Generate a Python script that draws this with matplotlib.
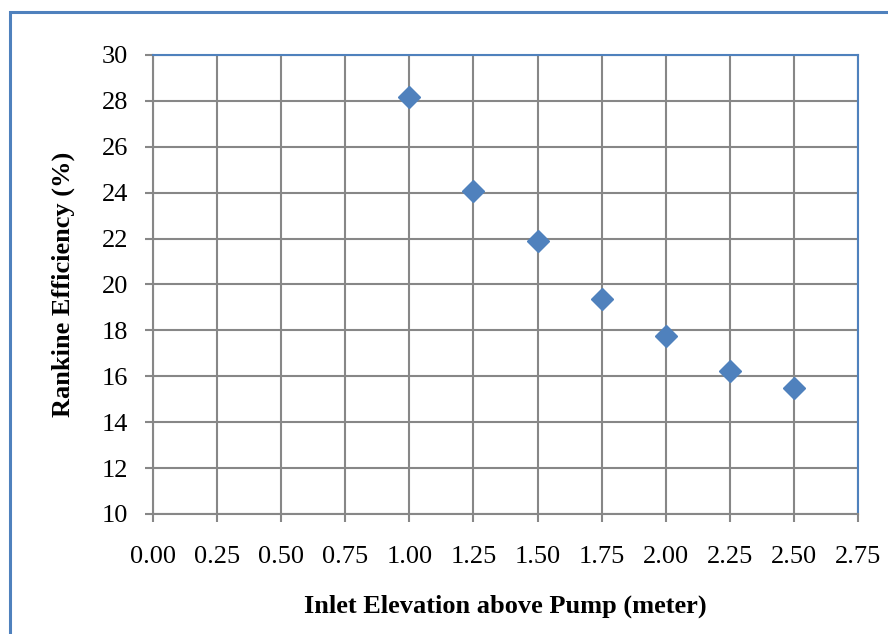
import matplotlib.pyplot as plt
from matplotlib.patches import Rectangle

# inlet elevation (m) vs Rankine efficiency (%)
elevation = [1.00, 1.25, 1.50, 1.75, 2.00, 2.25, 2.50]
efficiency = [28.17, 24.07, 21.90, 19.35, 17.75, 16.23, 15.50]

x_ticks = [0.00, 0.25, 0.50, 0.75, 1.00, 1.25, 1.50, 1.75, 2.00, 2.25, 2.50, 2.75]
y_ticks = list(range(10, 31, 2))

blue = "#4F81BD"
grid_gray = "#878787"

plt.rcParams["font.family"] = ["Liberation Serif", "DejaVu Serif"]

fig = plt.figure(figsize=(8.88, 6.34), dpi=100)
ax = fig.add_axes([153 / 888, 1 - 514 / 634, 705 / 888, 459 / 634])

# chart frame around everything
fig.patches.append(Rectangle((10 / 888, -0.05), 1.0, 1 - 12 / 634 + 0.05,
                             transform=fig.transFigure, fill=False,
                             edgecolor=blue, linewidth=2.2))

ax.plot(elevation, efficiency, linestyle="none", marker="D", markersize=11,
        color=blue, zorder=3, clip_on=False)

ax.set_xlim(0, 2.75)
ax.set_ylim(10, 30)
ax.set_xticks(x_ticks)
ax.set_xticklabels([f"{v:.2f}" for v in x_ticks])
ax.set_yticks(y_ticks)

ax.grid(True, color=grid_gray, linewidth=1.5)
ax.set_axisbelow(True)
ax.tick_params(axis="both", direction="out", length=6, width=1.5,
               color=grid_gray, labelsize=19)
ax.tick_params(axis="x", pad=17)
ax.tick_params(axis="y", pad=12)

for side in ["left", "bottom"]:
    ax.spines[side].set_color(grid_gray)
    ax.spines[side].set_linewidth(1.5)
for side in ["top", "right"]:
    ax.spines[side].set_color(blue)
    ax.spines[side].set_linewidth(1.5)

ax.set_xlabel("Inlet Elevation above Pump (meter)", fontsize=19,
              fontweight="bold", labelpad=19)
ax.set_ylabel("Rankine Efficiency (%)", fontsize=19, fontweight="bold",
              labelpad=19)

fig.savefig("out.png", dpi=100)
